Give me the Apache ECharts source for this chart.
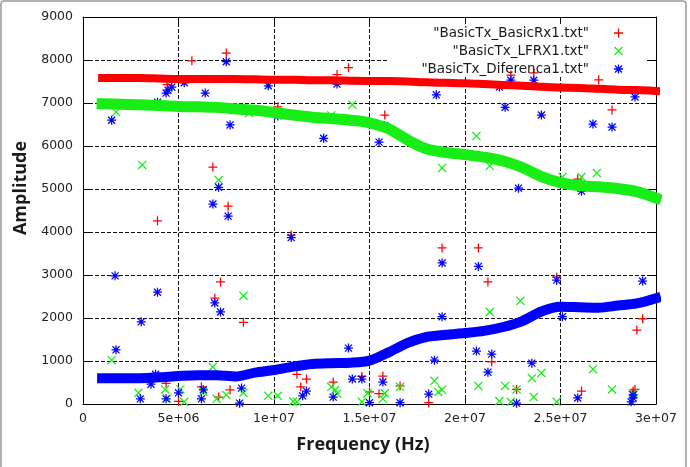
<!DOCTYPE html>
<html>
<head>
<meta charset="utf-8">
<script src="https://cdn.jsdelivr.net/npm/echarts@6/dist/echarts.min.js"></script>
<style>
  html, body { margin: 0; padding: 0; background: #fff; }
  #chart { width: 690px; height: 467px; }
</style>
</head>
<body>
<div id="chart"></div>
<script>
// frequency samples (Hz) for the dense bands
const bandFreq = [1e6, 2e6, 3e6, 4e6, 5e6, 6e6, 7e6, 8e6, 9e6, 1e7,
  1.1e7, 1.2e7, 1.3e7, 1.4e7, 1.5e7, 1.6e7, 1.7e7, 1.8e7, 1.9e7, 2e7,
  2.1e7, 2.2e7, 2.3e7, 2.4e7, 2.5e7, 2.6e7, 2.7e7, 2.8e7, 2.9e7, 3e7]

const rxBand = [7580, 7580, 7580, 7570, 7560, 7560, 7560, 7560, 7550, 7540,
  7540, 7530, 7530, 7520, 7510, 7510, 7500, 7480, 7470, 7460,
  7440, 7420, 7400, 7380, 7360, 7350, 7330, 7310, 7300, 7280]

const lfrxBand = [6980, 6970, 6960, 6940, 6920, 6910, 6900, 6860, 6830, 6780,
  6720, 6670, 6640, 6600, 6540, 6400, 6140, 5930, 5850, 5800,
  5740, 5650, 5500, 5290, 5150, 5080, 5050, 5010, 4940, 4790]

const difBand = [600, 600, 600, 620, 650, 670, 670, 640, 730, 790,
  870, 930, 950, 960, 1010, 1200, 1420, 1560, 1610, 1650,
  1700, 1790, 1930, 2150, 2260, 2250, 2240, 2290, 2340, 2460]

// scattered points [Hz, amplitude]
const rxPts = [[5.7e6, 7980], [7.5e6, 8160], [4.4e6, 7430], [6.8e6, 5510], [7.6e6, 4600],
  [3.9e6, 4260], [1.02e7, 6910], [1.09e7, 3930], [1.33e7, 7660], [1.39e7, 7820],
  [1.58e7, 6720], [2.24e7, 7650], [2.36e7, 7700], [2.7e7, 7540], [2.77e7, 6840],
  [2.59e7, 5230], [1.88e7, 3630], [2.07e7, 3630], [2.12e7, 2840], [2.48e7, 2950],
  [2.93e7, 1980], [2.9e7, 1720], [2.14e7, 980], [2.61e7, 300], [2.27e7, 340],
  [2.88e7, 300], [2.89e7, 340], [1.81e7, 30], [1.55e7, 240], [1.57e7, 650],
  [1.46e7, 640], [1.5e7, 280], [1.12e7, 690], [1.17e7, 580], [1.14e7, 400],
  [1.31e7, 510], [1.66e7, 420], [7.2e6, 2840], [6.9e6, 2460], [8.4e6, 1900],
  [4.35e6, 480], [6.2e6, 400], [7.1e6, 160], [7.7e6, 330], [5e6, 60], [6.3e6, 670]]

const lfrxPts = [[1.73e6, 6790], [3.1e6, 5560], [7.1e6, 5210], [8.7e6, 6770], [1.3e7, 6710],
  [1.41e7, 6960], [1.88e7, 5490], [2.06e7, 6230], [2.13e7, 5540], [2.51e7, 5280],
  [2.61e7, 5280], [2.69e7, 5370], [1.5e6, 1020], [8.4e6, 2520], [6.8e6, 860],
  [2.9e6, 260], [4.3e6, 340], [4.4e6, 130], [5.1e6, 340], [5.3e6, 50],
  [6.3e6, 280], [7e6, 120], [7.5e6, 210], [8.4e6, 260], [9.7e6, 190],
  [1.02e7, 190], [1.1e7, 60], [1.12e7, 50], [1.3e7, 400], [1.32e7, 330],
  [1.33e7, 240], [1.49e7, 250], [1.58e7, 250], [1.57e7, 120], [1.66e7, 400],
  [1.46e7, 50], [1.84e7, 540], [1.86e7, 280], [1.88e7, 330], [2.29e7, 2400],
  [2.13e7, 2140], [2.07e7, 420], [2.21e7, 420], [2.27e7, 340], [2.18e7, 70],
  [2.24e7, 50], [2.35e7, 600], [2.4e7, 720], [2.36e7, 160], [2.48e7, 50],
  [2.67e7, 810], [2.77e7, 340], [2.88e7, 250]]

const difPts = [[1.5e6, 6600], [3.9e6, 7020], [4.35e6, 7230], [4.45e6, 7300], [4.65e6, 7370],
  [5.3e6, 7470], [6.4e6, 7230], [7.5e6, 7960], [7.7e6, 6490], [6.8e6, 4650],
  [7.1e6, 5040], [7.6e6, 4370], [9.7e6, 7400], [1.02e7, 6700], [1.09e7, 3870],
  [1.26e7, 6180], [1.33e7, 7440], [1.85e7, 7190], [2.18e7, 7370], [2.24e7, 7530],
  [2.21e7, 6900], [2.36e7, 7530], [2.4e7, 6720], [2.67e7, 6510], [2.77e7, 6440],
  [2.89e7, 7140], [1.58e7, 6470], [1.55e7, 6090], [2.28e7, 5020], [2.61e7, 4950],
  [1.68e6, 2980], [3.9e6, 2600], [3.05e6, 1910], [1.73e6, 1260], [6.9e6, 2350],
  [7.2e6, 2140], [8.3e6, 370], [3.56e6, 460], [3.8e6, 690], [3e6, 120],
  [4.35e6, 120], [5e6, 260], [6.2e6, 120], [6.3e6, 330], [8.2e6, 20],
  [1.39e7, 1300], [1.88e7, 2030], [1.88e7, 3280], [1.84e7, 1020], [1.41e7, 580],
  [1.46e7, 580], [1.57e7, 510], [1.15e7, 190], [1.17e7, 300], [1.31e7, 160],
  [1.5e7, 30], [1.66e7, 30], [1.81e7, 230], [2.07e7, 3200], [2.48e7, 2880],
  [2.93e7, 2860], [2.51e7, 2030], [2.06e7, 1230], [2.14e7, 1160], [2.12e7, 740],
  [2.35e7, 950], [2.27e7, 20], [2.59e7, 140], [2.88e7, 140], [2.88e7, 210], [2.87e7, 50]]

const xTickLabels = ['0', '5e+06', '1e+07', '1.5e+07', '2e+07', '2.5e+07', '3e+07']

const names = ['"BasicTx_BasicRx1.txt"', '"BasicTx_LFRX1.txt"', '"BasicTx_Diferenca1.txt"']
const colors = ['#ff0000', '#16ee16', '#0000ff']

// gnuplot-like point shapes
const PLUS = 'path://M4.3,0H5.7V4.3H10V5.7H5.7V10H4.3V5.7H0V4.3H4.3Z'
const CROSS = 'path://M0,1L1,0L10,9L9,10ZM9,0L10,1L1,10L0,9Z'
const STAR = 'path://M4.3,0H5.7V4.3H10V5.7H5.7V10H4.3V5.7H0V4.3H4.3ZM0.6,1.6L1.6,0.6L9.4,8.4L8.4,9.4ZM8.4,0.6L9.4,1.6L1.6,9.4L0.6,8.4Z'
const shapes = [PLUS, CROSS, STAR]

const font = 'DejaVu Sans'

function band(values, color, width) {
  return {
    type: 'line',
    name: 'band',
    data: bandFreq.map((f, i) => [f, values[i]]),
    showSymbol: false,
    smooth: 0.3,
    silent: true,
    lineStyle: { color: color, width: width, cap: 'square' }
  }
}

function points(data, i) {
  return {
    type: 'scatter',
    name: names[i],
    data: data,
    symbol: shapes[i],
    symbolSize: 9,
    itemStyle: { color: colors[i], opacity: 1 }
  }
}

function legend(i) {
  return {
    orient: 'vertical',
    align: 'right',
    right: 67,
    top: 26 + i * 18,
    padding: 0,
    itemWidth: 9,
    itemHeight: 9,
    selectedMode: false,
    data: [{ name: names[i], icon: shapes[i] }],
    textStyle: { fontFamily: font, fontSize: 13.5, color: '#1a1a1a', padding: [0, 20, 0, 0] }
  }
}

const ticks = { show: true, inside: true, length: 6, lineStyle: { color: '#000' } }
const border = { show: true, onZero: false, lineStyle: { color: '#000', width: 1 } }
const dashed = { show: true, lineStyle: { color: '#111', width: 1, type: [4, 2] } }

function getOptions() {
  return {
    animation: false,
    grid: { left: 83, right: 34, top: 17, bottom: 63 },
    xAxis: [{
      type: 'value', min: 0, max: 3e7, interval: 5e6,
      axisLine: border,
      axisTick: ticks,
      axisLabel: {
        margin: 8, fontFamily: font, fontSize: 12.5, color: '#222',
        formatter: (v) => xTickLabels[Math.round(v / 5e6)]
      },
      splitLine: dashed
    }, {
      type: 'value', min: 0, max: 3e7, interval: 5e6, position: 'top',
      axisLine: border, axisTick: ticks, axisLabel: { show: false }, splitLine: { show: false }
    }],
    yAxis: [{
      type: 'value', min: 0, max: 9000, interval: 1000,
      axisLine: border,
      axisTick: ticks,
      axisLabel: { margin: 10, fontFamily: font, fontSize: 12.5, color: '#222', formatter: (v) => String(v) },
      splitLine: dashed
    }, {
      type: 'value', min: 0, max: 9000, interval: 1000, position: 'right',
      axisLine: border, axisTick: ticks, axisLabel: { show: false }, splitLine: { show: false }
    }],
    legend: [legend(0), legend(1), legend(2)],
    graphic: [
      // outer frame of the picture
      { type: 'rect', shape: { x: 1, y: 1, width: 685, height: 480, r: 3 }, style: { fill: 'none', stroke: '#9a9a9a', lineWidth: 1.5 }, z: 0 },
      // opaque key box
      { type: 'rect', shape: { x: 388, y: 24, width: 258, height: 52 }, style: { fill: '#fff' }, z: 1 },
      { type: 'text', x: 21, y: 188, rotation: Math.PI / 2,
        style: { text: 'Amplitude', fontFamily: 'Open Sans', fontWeight: 'bold', fontSize: 18, fill: '#1a1a1a', align: 'center', verticalAlign: 'middle' } },
      { type: 'text', x: 363, y: 445,
        style: { text: 'Frequency (Hz)', fontFamily: 'Open Sans', fontWeight: 'bold', fontSize: 18, fill: '#1a1a1a', align: 'center', verticalAlign: 'middle' } }
    ],
    series: [
      band(rxBand, colors[0], 8),
      points(rxPts, 0),
      band(lfrxBand, colors[1], 11),
      points(lfrxPts, 1),
      band(difBand, colors[2], 10),
      points(difPts, 2)
    ]
  }
}

const chart = echarts.init(document.getElementById('chart'), null, { renderer: 'canvas' })
chart.setOption(getOptions())
</script>
</body>
</html>
